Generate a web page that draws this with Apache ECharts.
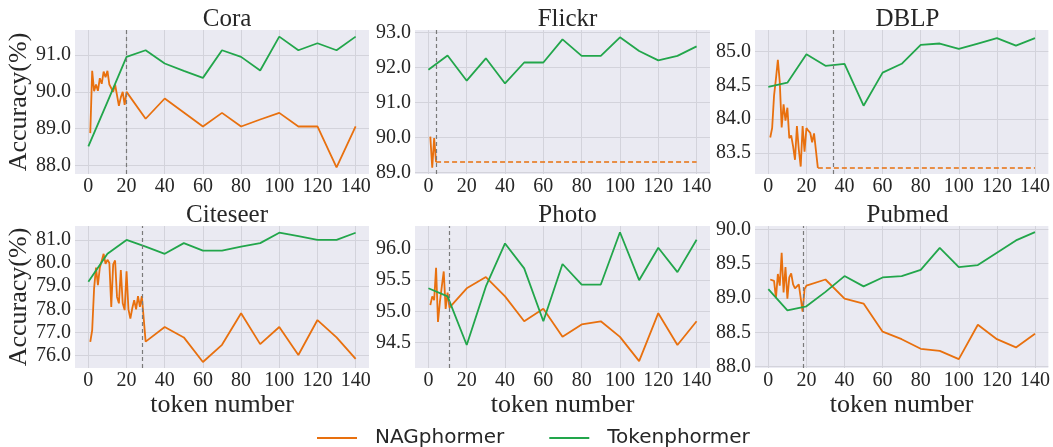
<!DOCTYPE html>
<html>
<head>
<meta charset="utf-8">
<script src="https://cdn.jsdelivr.net/npm/echarts@6/dist/echarts.min.js"></script>
<style>
html,body{margin:0;padding:0;background:#fff;}
#chart{width:1053px;height:447px;}
</style>
</head>
<body>
<div id="chart"></div>
<script>
// ---------- data ----------
const tokenX = [0,10,20,30,40,50,60,70,80,90,100,110,120,130,140];
const xTicks = [0,20,40,60,80,100,120,140];

const coraNagX = [1,2,3,4,5,6,7,8,9,10,11,12,13,14,15,16,17,18,19,20,30,40,50,60,70,80,90,100,110,120,130,140];
const coraNagY = [88.88,90.57,90.02,90.2,90.03,90.37,90.22,90.55,90.4,90.57,90.2,90.2,90.0,90.2,90.2,89.62,89.85,90.0,89.65,90.0,89.27,89.82,89.44,89.06,89.43,89.06,89.25,89.43,89.06,89.06,87.95,89.06];
const coraTokY = [88.52,89.73,90.95,91.13,90.77,90.57,90.38,91.13,90.95,90.58,91.5,91.13,91.32,91.13,91.5];
const coraYTicks = [88,89,90,91];

const flickrNagX = [1,2,3,4];
const flickrNagY = [90.02,89.13,89.98,89.29];
const flickrNagDashX = [4,140];
const flickrNagDashY = [89.29,89.29];
const flickrTokY = [91.93,92.34,91.62,92.26,91.54,92.14,92.14,92.8,92.33,92.33,92.86,92.47,92.2,92.33,92.6];
const flickrYTicks = [89,90,91,92,93];

const dblpNagX = [1,2,3,4,5,6,7,8,9,10,11,12,13,14,15,16,17,18,19,20,21,22,23,24,25,26];
const dblpNagY = [83.73,83.87,84.35,84.6,84.88,84.55,83.88,84.22,83.98,84.17,83.72,83.76,83.6,83.4,83.9,83.55,83.3,83.9,83.52,83.87,83.83,83.8,83.66,83.79,83.79,83.28];
const dblpNagDashX = [26,140];
const dblpNagDashY = [83.28,83.28];
const dblpTokY = [84.48,84.54,84.96,84.79,84.82,84.2,84.69,84.82,85.1,85.12,85.04,85.12,85.2,85.09,85.2];
const dblpYTicks = [83.5,84.0,84.5,85.0];

const citeNagX = [1,2,3,4,5,6,7,8,9,10,11,12,13,14,15,16,17,18,19,20,21,22,23,24,25,26,27,28,30,40,50,60,70,80,90,100,110,120,130,140];
const citeNagY = [76.6,77.1,78.9,79.8,79.05,79.8,80.1,80.4,79.97,80.14,80.0,78.11,79.94,80.11,78.54,78.26,79.7,78.26,77.97,79.64,78.0,77.6,78.05,78.4,78.0,78.57,78.11,78.57,76.61,77.24,76.79,75.73,76.47,77.83,76.5,77.24,76.03,77.54,76.79,75.86];
const citeTokY = [79.19,80.4,81.0,80.71,80.4,80.86,80.54,80.54,80.71,80.86,81.31,81.16,81.0,81.0,81.31];
const citeYTicks = [76,77,78,79,80,81];

const photoNagX = [1,2,3,4,5,6,7,8,9,10,11,20,30,40,50,60,70,80,90,100,110,120,130,140];
const photoNagY = [95.1,95.24,95.18,95.7,94.83,95.15,95.4,95.64,95.04,95.3,95.06,95.37,95.55,95.24,94.84,95.04,94.59,94.79,94.84,94.59,94.2,94.97,94.46,94.84];
const photoTokY = [95.37,95.24,94.46,95.4,96.09,95.69,94.84,95.76,95.43,95.43,96.27,95.5,96.02,95.63,96.15];
const photoYTicks = [94.5,95.0,95.5,96.0];

const pubNagX = [1,2,3,4,5,6,7,8,9,10,11,12,13,14,15,16,17,18,19,20,30,40,50,60,70,80,90,100,110,120,130,140];
const pubNagY = [89.27,89.26,89.25,89.0,89.35,89.18,89.66,89.08,89.45,88.99,89.3,89.36,89.2,89.14,89.13,89.2,89.22,88.8,89.13,89.18,89.27,88.99,88.92,88.51,88.4,88.26,88.23,88.11,88.61,88.4,88.28,88.48];
const pubTokY = [89.13,88.82,88.88,89.09,89.32,89.17,89.3,89.32,89.41,89.73,89.45,89.48,89.66,89.84,89.96];
const pubYTicks = [88.0,88.5,89.0,89.5,90.0];

const titles = ['Cora','Flickr','DBLP','Citeseer','Photo','Pubmed'];
const bestHop = [20,4,34,28,11,18.5];

// ---------- build ----------
const ORANGE = '#e8700e';
const GREEN = '#22a64b';
const TXT = '#262626';
const SERIF = 'Liberation Serif';
const zip = (xs, ys) => xs.map((x, i) => [x, ys[i]]);

const panels = [
  {nag: zip(coraNagX, coraNagY), dash: null, tok: zip(tokenX, coraTokY), ticks: coraYTicks, min: 87.77, max: 91.68},
  {nag: zip(flickrNagX, flickrNagY), dash: zip(flickrNagDashX, flickrNagDashY), tok: zip(tokenX, flickrTokY), ticks: flickrYTicks, min: 88.95, max: 93.07},
  {nag: zip(dblpNagX, dblpNagY), dash: zip(dblpNagDashX, dblpNagDashY), tok: zip(tokenX, dblpTokY), ticks: dblpYTicks, min: 83.19, max: 85.32},
  {nag: zip(citeNagX, citeNagY), dash: null, tok: zip(tokenX, citeTokY), ticks: citeYTicks, min: 75.47, max: 81.6},
  {nag: zip(photoNagX, photoNagY), dash: null, tok: zip(tokenX, photoTokY), ticks: photoYTicks, min: 94.09, max: 96.37},
  {nag: zip(pubNagX, pubNagY), dash: null, tok: zip(tokenX, pubTokY), ticks: pubYTicks, min: 87.98, max: 90.05}
];

const cols = [{left: 75, width: 294}, {left: 415, width: 295}, {left: 755, width: 295}];
const rows = [{top: 30, height: 144, titleTop: 2}, {top: 226, height: 142, titleTop: 198}];

const grid = [], xAxis = [], yAxis = [], series = [], title = [];
panels.forEach((p, i) => {
  const c = cols[i % 3], r = rows[Math.floor(i / 3)];
  grid.push({left: c.left, top: r.top, width: c.width, height: r.height, show: true,
    backgroundColor: '#eaeaf2', borderWidth: 0, containLabel: false});
  title.push({text: titles[i], left: c.left + c.width / 2, top: r.titleTop, textAlign: 'center',
    textStyle: {fontFamily: SERIF, fontSize: 25, fontWeight: 'normal', color: TXT}});
  const bottomRow = i >= 3;
  xAxis.push({type: 'value', gridIndex: i, min: -7, max: 147,
    name: bottomRow ? 'token number' : '', nameLocation: 'middle', nameGap: 21,
    nameTextStyle: {fontFamily: SERIF, fontSize: 26, color: TXT},
    axisLine: {show: false}, axisTick: {show: false, customValues: xTicks},
    axisLabel: {customValues: xTicks, fontFamily: SERIF, fontSize: 20, color: TXT, margin: 3},
    splitLine: {show: true, lineStyle: {color: '#d3d3db', width: 1}}});
  yAxis.push({type: 'value', gridIndex: i, min: p.min, max: p.max,
    name: (i % 3 === 0) ? 'Accuracy(%)' : '', nameLocation: 'middle', nameGap: 41,
    nameTextStyle: {fontFamily: SERIF, fontSize: 26, color: TXT},
    axisLine: {show: false}, axisTick: {show: false, customValues: p.ticks},
    axisLabel: {customValues: p.ticks, formatter: v => Number(v).toFixed(1),
      fontFamily: SERIF, fontSize: 20, color: TXT, margin: 4},
    splitLine: {show: true, lineStyle: {color: '#d3d3db', width: 1}}});
  series.push({name: 'NAGphormer', type: 'line', xAxisIndex: i, yAxisIndex: i, data: p.nag,
    showSymbol: false, symbol: 'none', z: 3, itemStyle: {color: ORANGE},
    lineStyle: {color: ORANGE, width: 1.8},
    markLine: {silent: true, symbol: 'none', label: {show: false},
      lineStyle: {color: '#7a7a7a', type: [4, 3], width: 1.2},
      data: [{xAxis: bestHop[i]}]}});
  if (p.dash) {
    series.push({name: 'NAGphormer (cont.)', type: 'line', xAxisIndex: i, yAxisIndex: i, data: p.dash,
      showSymbol: false, symbol: 'none', z: 3, itemStyle: {color: ORANGE},
      lineStyle: {color: ORANGE, width: 1.5, type: [5, 3]}});
  }
  series.push({name: 'Tokenphormer', type: 'line', xAxisIndex: i, yAxisIndex: i, data: p.tok,
    showSymbol: false, symbol: 'none', z: 4, itemStyle: {color: GREEN},
    lineStyle: {color: GREEN, width: 1.8}});
});

const chart = echarts.init(document.getElementById('chart'), null, {renderer: 'canvas'});
chart.setOption({
  animation: false,
  backgroundColor: '#ffffff',
  title, grid, xAxis, yAxis, series,
  legend: {data: ['NAGphormer', 'Tokenphormer'], left: 312, top: 423, icon: 'rect',
    itemWidth: 40, itemHeight: 2, itemGap: 45,
    textStyle: {fontFamily: 'DejaVu Sans', fontSize: 20, color: TXT, padding: [0, 0, 0, 13]}}
});
</script>
</body>
</html>
